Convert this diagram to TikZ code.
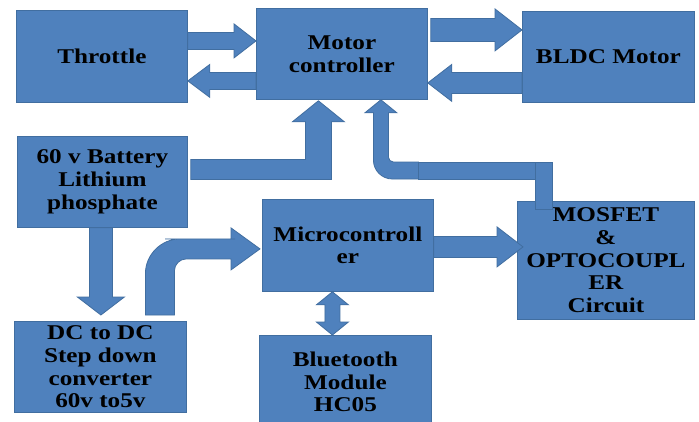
\documentclass[tikz,border=0pt]{standalone}
\usepackage{fontspec}
\setmainfont{Liberation Serif}[FakeStretch=1.2]
\usetikzlibrary{calc}

\definecolor{boxblue}{RGB}{79,129,189}
\definecolor{boxline}{RGB}{65,110,160}

% straight block arrows: tail, tip, shaft half width, head half width, head length
\newcommand\blockH[5]{%
  \path[arr] let \p1=(#1), \p2=(#2) in
    (\x1,{\y1+#3}) -- ({\x2-(#5)},{\y1+#3}) -- ({\x2-(#5)},{\y1+#4}) -- (\x2,\y1)
    -- ({\x2-(#5)},{\y1-(#4)}) -- ({\x2-(#5)},{\y1-(#3)}) -- (\x1,{\y1-(#3)}) -- cycle;}
\newcommand\blockV[5]{%
  \path[arr] let \p1=(#1), \p2=(#2) in
    ({\x1+#3},\y1) -- ({\x1+#3},{\y2-(#5)}) -- ({\x1+#4},{\y2-(#5)}) -- (\x1,\y2)
    -- ({\x1-(#4)},{\y2-(#5)}) -- ({\x1-(#3)},{\y2-(#5)}) -- ({\x1-(#3)},\y1) -- cycle;}

\begin{document}
\begin{tikzpicture}[x=1pt, y=-1pt,
font=\fontsize{21}{22.7}\selectfont\bfseries,
block/.style={draw=boxline, fill=boxblue, line width=0.8pt, anchor=north west,
    inner sep=0pt, align=center, text=black},
arr/.style={draw=boxline, fill=boxblue, line width=0.8pt},
]
\path[use as bounding box, clip] (0,0) rectangle (699,421);
\fill[white] (0,0) rectangle (699,421);

\node[block, minimum width=171pt, minimum height=92pt] (thr) at (16,10) {Throttle};
\node[block, minimum width=171pt, minimum height=91pt] (mc) at (256,8) {Motor\\controller};
\node[block, minimum width=172pt, minimum height=91pt] (bldc) at (522,11) {BLDC Motor};
\node[block, minimum width=170pt, minimum height=91pt] (bat) at (17,136) {60 v Battery\\Lithium\\phosphate};
\node[block, minimum width=171pt, minimum height=92pt] (mcu) at (262,199) {Microcontroll\\er};
\node[block, minimum width=177pt, minimum height=118pt] (mos) at (517,201) {MOSFET\\\&\\OPTOCOUPL\\ER\\Circuit};
\node[block, minimum width=172pt, minimum height=91pt] (dc) at (14,321) {DC to DC\\Step down\\converter\\60v to5v};
\node[block, minimum width=172pt, minimum height=93pt] (bt) at (259,335) {Bluetooth\\Module\\HC05};

\blockH{$(thr.east)+(0,-15.5)$}{mc.west}{8.5pt}{17pt}{22pt}
\blockH{$(mc.west)+(0,27)$}{thr.east}{8.5pt}{16.5pt}{-22pt}
\blockH{$(mc.east)+(3,-24)$}{bldc.west}{11.5pt}{21pt}{27pt}
\blockH{$(bldc.west)+(0,26)$}{mc.east}{10.5pt}{18.5pt}{-24pt}
\blockH{$(mcu.east)+(0,1.5)$}{$(mos.west)+(6,0)$}{10.5pt}{20pt}{26pt}
\blockV{$(bat.south)+(-1.5,0)$}{$(dc.north)+(0,-6)$}{11.5pt}{23.5pt}{-18pt}

% microcontroller <-> bluetooth
\path[arr] let \p1=($(mcu.south)+(-15.5,0)$), \p2=(bt.north) in
  (\x1,\y1) -- ({\x1+16pt},{\y1-13pt}) -- ({\x1+7.5pt},{\y1-13pt}) -- ({\x1+7.5pt},{\y2+13pt})
  -- ({\x1+16pt},{\y2+13pt}) -- (\x1,\y2) -- ({\x1-16pt},{\y2+13pt}) -- ({\x1-7.5pt},{\y2+13pt})
  -- ({\x1-7.5pt},{\y1-13pt}) -- ({\x1-16pt},{\y1-13pt}) -- cycle;

% battery -> motor controller
\path[arr] let \p1=($(bat.east)+(3,-12.5)$), \p2=($(mc.south)+(-23.5,1)$) in
  (\x1,{\y1+10pt}) -- ({\x2-13pt},{\y1+10pt}) -- ({\x2-13pt},{\y2-21pt}) -- ({\x2-26pt},{\y2-21pt})
  -- (\x2,\y2) -- ({\x2+26pt},{\y2-21pt}) -- ({\x2+13pt},{\y2-21pt}) -- ({\x2+13pt},{\y1-10pt})
  -- (\x1,{\y1-10pt}) -- cycle;

% dc converter -> microcontroller
\path[arr] let \p1=($(dc.north)+(59.5,-6)$), \p2=($(mcu.west)+(-2,3.5)$) in
  ({\x1-14.5pt},\y1) -- ({\x1-14.5pt},{\y1+35pt}) [rounded corners=35pt] -- ({\x1-14.5pt},{\y2+10pt})
  -- ({\x2-60pt},{\y2+10pt}) [sharp corners] -- ({\x2-29pt},{\y2+10pt}) -- ({\x2-29pt},{\y2+21pt})
  -- (\x2,\y2) -- ({\x2-29pt},{\y2-21pt}) -- ({\x2-29pt},{\y2-10pt}) -- ({\x2-60pt},{\y2-10pt})
  [rounded corners=12pt] -- ({\x1+14.5pt},{\y2-10pt}) -- ({\x1+14.5pt},{\y1+20pt})
  [sharp corners] -- ({\x1+14.5pt},\y1) -- cycle;

% mosfet -> motor controller
\path[arr] let \p1=($(mos.north)+(-187.5,-30.5)$), \p2=($(mc.south)+(39,0)$) in
  (\x1,{\y1+8.5pt}) -- ({\x2+25pt},{\y1+8.5pt}) [rounded corners=5pt] -- ({\x2+7.5pt},{\y1+8.5pt})
  -- ({\x2+7.5pt},{\y1+30pt}) [sharp corners] -- ({\x2+7.5pt},{\y2-13pt}) -- ({\x2+16pt},{\y2-13pt})
  -- (\x2,\y2) -- ({\x2-16pt},{\y2-13pt}) -- ({\x2-7.5pt},{\y2-13pt}) -- ({\x2-7.5pt},{\y1+30pt})
  [rounded corners=19pt] -- ({\x2-7.5pt},{\y1-8.5pt}) -- ({\x2+30pt},{\y1-8.5pt})
  [sharp corners] -- (\x1,{\y1-8.5pt}) -- cycle;
\path[arr] ($(mos.north)+(-187.5,-39)$) rectangle ($(mos.north)+(-70.5,-22)$);
\path[arr] ($(mos.north)+(-70.5,-39)$) rectangle ($(mos.north)+(-53.5,8)$);

\end{tikzpicture}
\end{document}
